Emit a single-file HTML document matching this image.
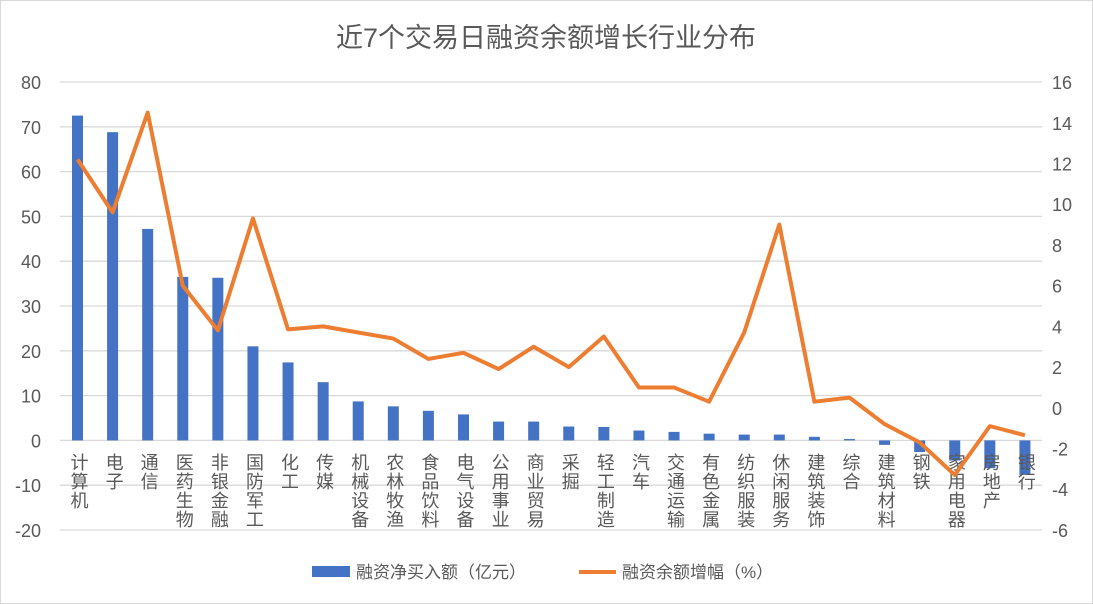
<!DOCTYPE html>
<html><head><meta charset="utf-8">
<style>
html,body{margin:0;padding:0;background:#fff;}
svg{display:block;font-family:"Liberation Sans","Noto Sans CJK SC",sans-serif;}
</style></head>
<body>
<svg id="c" width="1093" height="604" viewBox="0 0 1093 604" xmlns="http://www.w3.org/2000/svg">
<rect x="0.5" y="0.5" width="1092" height="603" fill="#fff" stroke="#d9d9d9"/>
<text x="546" y="47" text-anchor="middle" font-size="27" fill="#595959">近7个交易日融资余额增长行业分布</text>
<g id="g"></g>
<rect x="312" y="566" width="38" height="11" fill="#4472c4"/>
<text x="356" y="578" font-size="17" fill="#595959">融资净买入额（亿元）</text>
<line x1="579" y1="572" x2="616" y2="572" stroke="#ed7d31" stroke-width="4"/>
<text x="622" y="578" font-size="17" fill="#595959">融资余额增幅（%）</text>
</svg>
<script>
var g=document.getElementById('g');var s='';
var zl=440.4,pl=4.48,zr=407.8,pr=20.36;
for(var v=80;v>=-20;v-=10){var y=zl-v*pl;s+='<line x1="60" x2="1042" y1="'+y+'" y2="'+y+'" stroke="#d9d9d9" stroke-width="1.3"/>';s+='<text x="41" y="'+(y+7)+'" text-anchor="end" font-size="18" fill="#595959">'+v+'</text>';}
for(var v=16;v>=-6;v-=2){var y=zr-v*pr;s+='<text x="1052" y="'+(y+7)+'" font-size="18" fill="#595959">'+v+'</text>';}
var names=['计算机','电子','通信','医药生物','非银金融','国防军工','化工','传媒','机械设备','农林牧渔','食品饮料','电气设备','公用事业','商业贸易','采掘','轻工制造','汽车','交通运输','有色金属','纺织服装','休闲服务','建筑装饰','综合','建筑材料','钢铁','家用电器','房地产','银行'];
var bars=[72.5,68.8,47.2,36.5,36.3,21,17.4,13,8.7,7.6,6.6,5.8,4.2,4.2,3.1,3.0,2.2,1.9,1.5,1.3,1.3,0.8,0.3,-1,-2.6,-4.5,-6.2,-7.7];
var line=[12.2,9.6,14.5,6.0,3.8,9.3,3.85,4.0,3.7,3.4,2.4,2.7,1.9,3.0,2.0,3.5,1.0,1.0,0.3,3.7,9.0,0.3,0.5,-0.8,-1.7,-3.3,-0.9,-1.35];
var pts=[];
for(var i=0;i<28;i++){var cx=77.5+i*35.09;var b=bars[i];var y1=zl-Math.max(b,0)*pl,h=Math.abs(b)*pl;
s+='<rect x="'+(cx-5.5)+'" y="'+y1+'" width="11" height="'+h+'" fill="#4472c4"/>';
pts.push(cx+','+(zr-line[i]*pr));}
for(var i=0;i<28;i++){var cx=79.5+i*35.09;var n=names[i];for(var k=0;k<n.length;k++){s+='<text x="'+cx+'" y="'+(469+k*19)+'" text-anchor="middle" font-size="18" fill="#595959">'+n[k]+'</text>';}}
s+='<polyline points="'+pts.join(' ')+'" fill="none" stroke="#ed7d31" stroke-width="4" stroke-linejoin="round"/>';
g.innerHTML=s;
</script>
</body></html>
